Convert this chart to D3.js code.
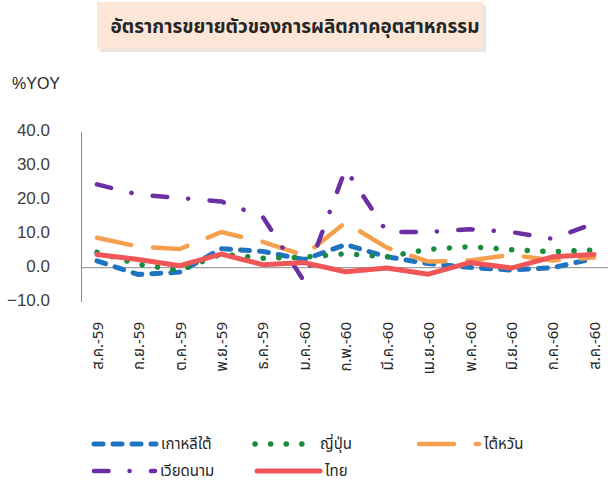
<!DOCTYPE html>
<html><head><meta charset="utf-8">
<script src="https://cdn.jsdelivr.net/npm/d3@7/dist/d3.min.js"></script>
<style>
body{margin:0;background:#fff;}
text{font-family:"Noto Sans Thai","Noto Sans","DejaVu Sans",sans-serif;}
</style></head>
<body><svg id="c" width="608" height="489"></svg>
<script>
const categories = ["ส.ค.-59","ก.ย.-59","ต.ค.-59","พ.ย.-59","ธ.ค.-59","ม.ค.-60","ก.พ.-60","มี.ค.-60","เม.ย.-60","พ.ค.-60","มิ.ย.-60","ก.ค.-60","ส.ค.-60"];
const korea    = [2.0, -2.0, -1.3, 5.6, 4.8, 2.4, 6.8, 3.2, 1.2, 0.1, -0.7, 0.0, 2.7];
const japan    = [4.5, 1.0, -0.8, 4.0, 2.8, 3.1, 4.1, 3.2, 5.4, 6.2, 5.3, 4.7, 5.2];
const taiwan   = [8.8, 6.2, 5.5, 10.5, 7.6, 3.6, 13.3, 5.9, 1.8, 2.1, 3.8, 2.1, 3.0];
const vietnam  = [24.5, 21.5, 20.5, 19.5, 15.0, -4.0, 29.0, 10.5, 10.5, 11.3, 10.5, 8.5, 13.0];
const thailand = [3.9, 2.4, 0.6, 4.0, 0.9, 1.5, -1.2, -0.1, -1.9, 1.5, -0.1, 3.2, 3.9];
const seriesNames = ["เกาหลีใต้","ญี่ปุ่น","ไต้หวัน","เวียดนาม","ไทย"];
const yTicks = [40, 30, 20, 10, 0, -10];
const title = "อัตราการขยายตัวของการผลิตภาคอุตสาหกรรม";
const yUnit = "%YOY";

const styles = [
  {color:"#1f74c2", width:5, dash:"9,10", cap:"round"},
  {color:"#178c3c", width:5.5, dash:"0.1,15.5", cap:"round"},
  {color:"#f6a04f", width:4.5, dash:"35,22", cap:"round"},
  {color:"#6b2fa3", width:4.5, dash:"14.5,21,0.1,21.4", cap:"round"},
  {color:"#f05658", width:5, dash:null, cap:"round"}
];
const data = [korea, japan, taiwan, vietnam, thailand];

const svg = d3.select("#c");
const x = d3.scalePoint().domain(categories).range([97, 594]);
const y = d3.scaleLinear().domain([-10, 40]).range([301.7, 131.7]);

// title box
const tg = svg.append("g");
tg.append("rect").attr("x",100).attr("y",5).attr("width",386).attr("height",47).attr("fill","#ece4df").attr("rx",1);
tg.append("rect").attr("x",97).attr("y",2).attr("width",386).attr("height",47).attr("fill","#fce6d7");
tg.append("text").attr("x",295).attr("y",33).attr("text-anchor","middle")
  .attr("font-size",19).attr("font-weight","bold").attr("fill","#262626").text(title);

svg.append("text").attr("x",12).attr("y",89).attr("font-size",16).attr("fill","#262626")
  .style("font-family","'Liberation Sans',Arial,sans-serif").text(yUnit);

// y axis
const yAxis = d3.axisLeft(y).tickValues(yTicks).tickSize(0).tickPadding(31).tickFormat(d3.format(".1f"));
const ya = svg.append("g").attr("transform","translate(81,0)").call(yAxis);
ya.select(".domain").attr("stroke","#8c8c8c").attr("stroke-width",1);
ya.selectAll("text").attr("font-size",17).attr("fill","#404040").attr("dy","0.22em")
  .style("font-family","'Liberation Sans',Arial,sans-serif");

// zero line
svg.append("line").attr("x1",81).attr("x2",608).attr("y1",y(0)).attr("y2",y(0))
  .attr("stroke","#8c8c8c").attr("stroke-width",1);

// x labels
const xAxis = d3.axisBottom(x).tickSize(0).tickPadding(0);
const xa = svg.append("g").attr("transform","translate(0,322)").call(xAxis);
xa.select(".domain").remove();
xa.selectAll("text").attr("transform","rotate(-90)").attr("text-anchor","end")
  .attr("x",0).attr("y",0).attr("dy","0.35em").attr("font-size",15).attr("fill","#262626");

// lines
const line = d3.line().x((d,i)=>x(categories[i])).y(d=>y(d));
data.forEach((vals, k) => {
  const s = styles[k];
  const p = svg.append("path").datum(vals).attr("d", line).attr("fill","none")
    .attr("stroke", s.color).attr("stroke-width", s.width)
    .attr("stroke-linecap", s.cap).attr("stroke-linejoin","round");
  if (s.dash) p.attr("stroke-dasharray", s.dash);
});

// legend
const legPos = [[92,444],[253,444],[417,444],[92,471],[255,471]];
const legLen = [66,64,64,65,67];
seriesNames.forEach((n,k)=>{
  const s = styles[k];
  const [lx,ly] = legPos[k];
  const l = svg.append("line").attr("x1",lx+2).attr("x2",lx+legLen[k]-2).attr("y1",ly).attr("y2",ly)
    .attr("stroke",s.color).attr("stroke-width",s.width).attr("stroke-linecap",s.cap);
  if (s.dash) l.attr("stroke-dasharray", s.dash);
  svg.append("text").attr("x",lx+legLen[k]+3).attr("y",ly).attr("dy","0.35em")
    .attr("font-size",15).attr("fill","#262626").text(n);
});
</script></body></html>
